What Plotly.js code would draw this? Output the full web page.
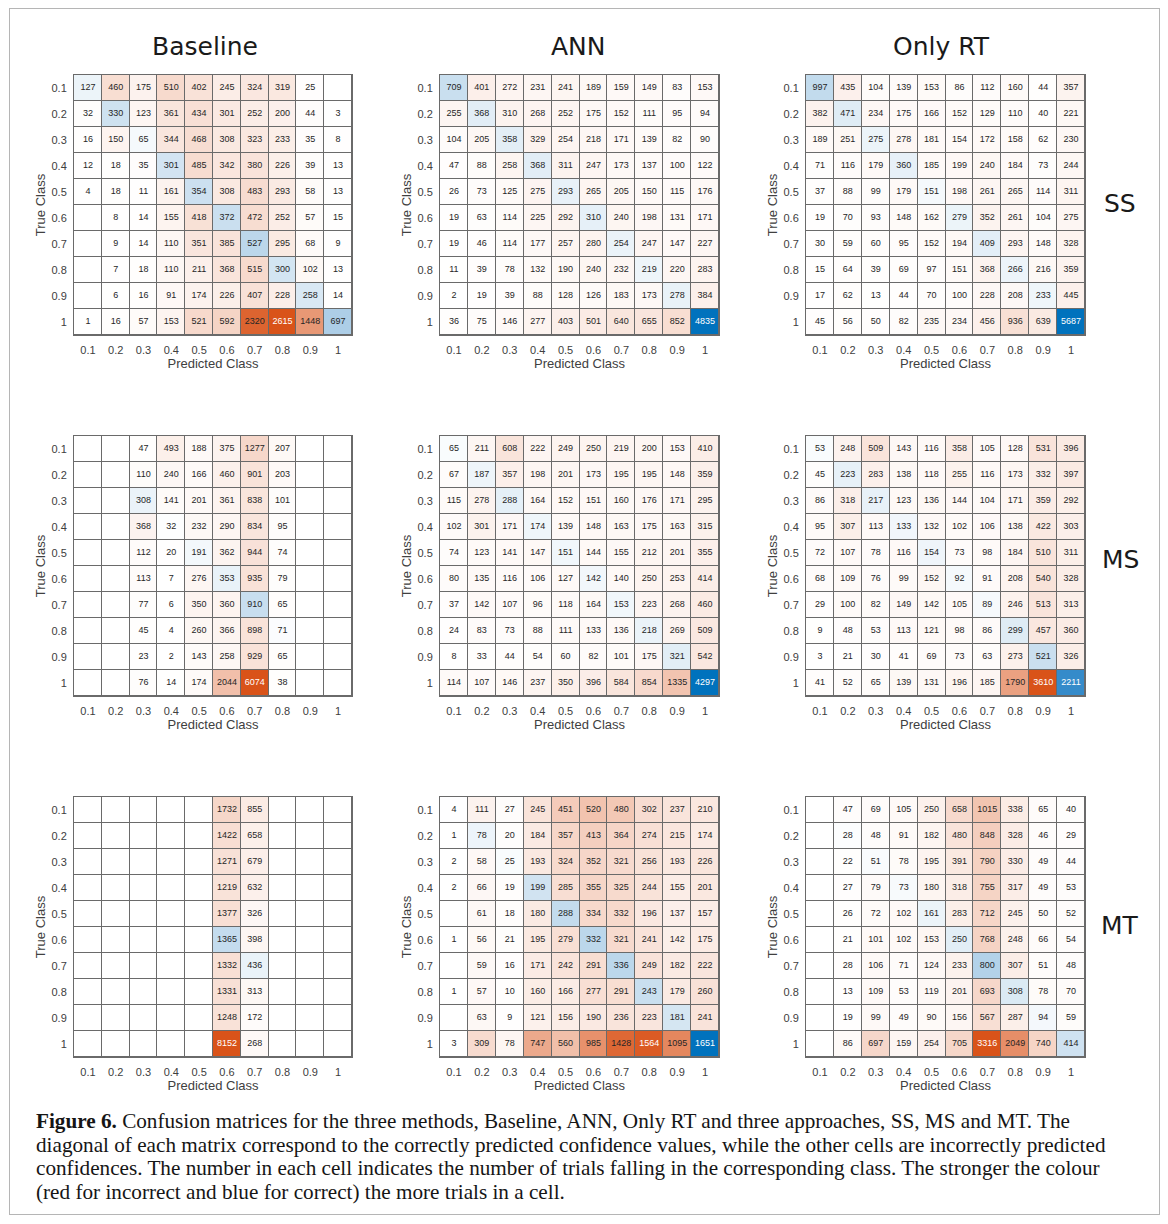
<!DOCTYPE html>
<html>
<head>
<meta charset="utf-8">
<script src="https://cdn.plot.ly/plotly-3.0.1.min.js"></script>
<style>
  html, body { margin: 0; padding: 0; background: #ffffff; }
  #wrap { position: relative; width: 1168px; height: 1224px; overflow: hidden; background: #fff; }
  #chart { position: absolute; left: 0; top: 0; width: 1168px; height: 1100px; }
  #frame { position: absolute; left: 9px; top: 8px; width: 1149px; height: 1205px; border: 1px solid #b5b5b5; pointer-events: none; }
  #caption { position: absolute; left: 36px; top: 1110px; font-family: 'Liberation Serif', 'DejaVu Serif', serif; font-size: 21.2px; line-height: 23.7px; color: #151515; white-space: nowrap; }
</style>
</head>
<body>
<div id="wrap">
  <div id="chart"></div>
  <div id="frame"></div>
  <div id="caption"><b>Figure 6.</b> Confusion matrices for the three methods, Baseline, ANN, Only RT and three approaches, SS, MS and MT. The<br>diagonal of each matrix correspond to the correctly predicted confidence values, while the other cells are incorrectly predicted<br>confidences. The number in each cell indicates the number of trials falling in the corresponding class. The stronger the colour<br>(red for incorrect and blue for correct) the more trials in a cell.</div>
</div>
<script>
// ---------- DATA ----------
const classes = ['0.1', '0.2', '0.3', '0.4', '0.5', '0.6', '0.7', '0.8', '0.9', '1'];
const methods = ['Baseline', 'ANN', 'Only RT'];
const approaches = ['SS', 'MS', 'MT'];

// rows = true class 0.1..1, columns = predicted class 0.1..1 (null = empty cell)
const ssBaseline = [
  [127, 460, 175, 510, 402, 245, 324, 319, 25, null],
  [32, 330, 123, 361, 434, 301, 252, 200, 44, 3],
  [16, 150, 65, 344, 468, 308, 323, 233, 35, 8],
  [12, 18, 35, 301, 485, 342, 380, 226, 39, 13],
  [4, 18, 11, 161, 354, 308, 483, 293, 58, 13],
  [null, 8, 14, 155, 418, 372, 472, 252, 57, 15],
  [null, 9, 14, 110, 351, 385, 527, 295, 68, 9],
  [null, 7, 18, 110, 211, 368, 515, 300, 102, 13],
  [null, 6, 16, 91, 174, 226, 407, 228, 258, 14],
  [1, 16, 57, 153, 521, 592, 2320, 2615, 1448, 697]
];
const ssANN = [
  [709, 401, 272, 231, 241, 189, 159, 149, 83, 153],
  [255, 368, 310, 268, 252, 175, 152, 111, 95, 94],
  [104, 205, 358, 329, 254, 218, 171, 139, 82, 90],
  [47, 88, 258, 368, 311, 247, 173, 137, 100, 122],
  [26, 73, 125, 275, 293, 265, 205, 150, 115, 176],
  [19, 63, 114, 225, 292, 310, 240, 198, 131, 171],
  [19, 46, 114, 177, 257, 280, 254, 247, 147, 227],
  [11, 39, 78, 132, 190, 240, 232, 219, 220, 283],
  [2, 19, 39, 88, 128, 126, 183, 173, 278, 384],
  [36, 75, 146, 277, 403, 501, 640, 655, 852, 4835]
];
const ssOnlyRT = [
  [997, 435, 104, 139, 153, 86, 112, 160, 44, 357],
  [382, 471, 234, 175, 166, 152, 129, 110, 40, 221],
  [189, 251, 275, 278, 181, 154, 172, 158, 62, 230],
  [71, 116, 179, 360, 185, 199, 240, 184, 73, 244],
  [37, 88, 99, 179, 151, 198, 261, 265, 114, 311],
  [19, 70, 93, 148, 162, 279, 352, 261, 104, 275],
  [30, 59, 60, 95, 152, 194, 409, 293, 148, 328],
  [15, 64, 39, 69, 97, 151, 368, 266, 216, 359],
  [17, 62, 13, 44, 70, 100, 228, 208, 233, 445],
  [45, 56, 50, 82, 235, 234, 456, 936, 639, 5687]
];
const msBaseline = [
  [null, null, 47, 493, 188, 375, 1277, 207, null, null],
  [null, null, 110, 240, 166, 460, 901, 203, null, null],
  [null, null, 308, 141, 201, 361, 838, 101, null, null],
  [null, null, 368, 32, 232, 290, 834, 95, null, null],
  [null, null, 112, 20, 191, 362, 944, 74, null, null],
  [null, null, 113, 7, 276, 353, 935, 79, null, null],
  [null, null, 77, 6, 350, 360, 910, 65, null, null],
  [null, null, 45, 4, 260, 366, 898, 71, null, null],
  [null, null, 23, 2, 143, 258, 929, 65, null, null],
  [null, null, 76, 14, 174, 2044, 6074, 38, null, null]
];
const msANN = [
  [65, 211, 608, 222, 249, 250, 219, 200, 153, 410],
  [67, 187, 357, 198, 201, 173, 195, 195, 148, 359],
  [115, 278, 288, 164, 152, 151, 160, 176, 171, 295],
  [102, 301, 171, 174, 139, 148, 163, 175, 163, 315],
  [74, 123, 141, 147, 151, 144, 155, 212, 201, 355],
  [80, 135, 116, 106, 127, 142, 140, 250, 253, 414],
  [37, 142, 107, 96, 118, 164, 153, 223, 268, 460],
  [24, 83, 73, 88, 111, 133, 136, 218, 269, 509],
  [8, 33, 44, 54, 60, 82, 101, 175, 321, 542],
  [114, 107, 146, 237, 350, 396, 584, 854, 1335, 4297]
];
const msOnlyRT = [
  [53, 248, 509, 143, 116, 358, 105, 128, 531, 396],
  [45, 223, 283, 138, 118, 255, 116, 173, 332, 397],
  [86, 318, 217, 123, 136, 144, 104, 171, 359, 292],
  [95, 307, 113, 133, 132, 102, 106, 138, 422, 303],
  [72, 107, 78, 116, 154, 73, 98, 184, 510, 311],
  [68, 109, 76, 99, 152, 92, 91, 208, 540, 328],
  [29, 100, 82, 149, 142, 105, 89, 246, 513, 313],
  [9, 48, 53, 113, 121, 98, 86, 299, 457, 360],
  [3, 21, 30, 41, 69, 73, 63, 273, 521, 326],
  [41, 52, 65, 139, 131, 196, 185, 1790, 3610, 2211]
];
const mtBaseline = [
  [null, null, null, null, null, 1732, 855, null, null, null],
  [null, null, null, null, null, 1422, 658, null, null, null],
  [null, null, null, null, null, 1271, 679, null, null, null],
  [null, null, null, null, null, 1219, 632, null, null, null],
  [null, null, null, null, null, 1377, 326, null, null, null],
  [null, null, null, null, null, 1365, 398, null, null, null],
  [null, null, null, null, null, 1332, 436, null, null, null],
  [null, null, null, null, null, 1331, 313, null, null, null],
  [null, null, null, null, null, 1248, 172, null, null, null],
  [null, null, null, null, null, 8152, 268, null, null, null]
];
const mtANN = [
  [4, 111, 27, 245, 451, 520, 480, 302, 237, 210],
  [1, 78, 20, 184, 357, 413, 364, 274, 215, 174],
  [2, 58, 25, 193, 324, 352, 321, 256, 193, 226],
  [2, 66, 19, 199, 285, 355, 325, 244, 155, 201],
  [null, 61, 18, 180, 288, 334, 332, 196, 137, 157],
  [1, 56, 21, 195, 279, 332, 321, 241, 142, 175],
  [null, 59, 16, 171, 242, 291, 336, 249, 182, 222],
  [1, 57, 10, 160, 166, 277, 291, 243, 179, 260],
  [null, 63, 9, 121, 156, 190, 236, 223, 181, 241],
  [3, 309, 78, 747, 560, 985, 1428, 1564, 1095, 1651]
];
const mtOnlyRT = [
  [null, 47, 69, 105, 250, 658, 1015, 338, 65, 40],
  [null, 28, 48, 91, 182, 480, 848, 328, 46, 29],
  [null, 22, 51, 78, 195, 391, 790, 330, 49, 44],
  [null, 27, 79, 73, 180, 318, 755, 317, 49, 53],
  [null, 26, 72, 102, 161, 283, 712, 245, 50, 52],
  [null, 21, 101, 102, 153, 250, 768, 248, 66, 54],
  [null, 28, 106, 71, 124, 233, 800, 307, 51, 48],
  [null, 13, 109, 53, 119, 201, 693, 308, 78, 70],
  [null, 19, 99, 49, 90, 156, 567, 287, 94, 59],
  [null, 86, 697, 159, 254, 705, 3316, 2049, 740, 414]
];

const grid = [
  [ssBaseline, ssANN, ssOnlyRT],
  [msBaseline, msANN, msOnlyRT],
  [mtBaseline, mtANN, mtOnlyRT]
];

// ---------- STYLE / LAYOUT ----------
const W = 1168, H = 1100;
const colPx = [[74, 352], [440, 719], [806, 1085]];
const rowPx = [[75, 335], [436, 696], [797, 1057]];
const titleX = [205, 578, 942];
const titleY = 46;
const rowLabelX = 1120;
const rowLabelY = [204, 560, 925];

// diverging colour scale: diagonal (negative, blue) <- white -> off-diagonal (positive, red)
const colorscale = [
  [0.0, [0, 114, 189]],
  [0.2, [55, 140, 202]],
  [0.365, [172, 206, 231]],
  [0.435, [205, 225, 240]],
  [0.5, [255, 255, 255]],
  [0.75, [234, 160, 128]],
  [1.0, [217, 83, 25]]
];
const plotlyScale = colorscale.map(s => [s[0], 'rgb(' + s[1].join(',') + ')']);
function colourAt(p) {
  for (let i = 1; i < colorscale.length; i++) {
    if (p <= colorscale[i][0]) {
      const a = colorscale[i - 1], b = colorscale[i];
      const f = (p - a[0]) / (b[0] - a[0]);
      return a[1].map((v, k) => v + f * (b[1][k] - v));
    }
  }
  return colorscale[colorscale.length - 1][1];
}
function labelColour(z, maxV) {
  const c = colourAt((z + maxV) / (2 * maxV));
  const bright = (c[0] * 299 + c[1] * 587 + c[2] * 114) / 1000;
  return bright < 128 ? '#ffffff' : '#262626';
}

const tickFont = { family: 'Liberation Sans, Arial, sans-serif', size: 11, color: '#404040' };
const axTitleFont = { family: 'Liberation Sans, Arial, sans-serif', size: 13, color: '#404040' };

const data = [];
const layout = {
  width: W, height: H,
  margin: { l: 0, r: 0, t: 0, b: 0 },
  paper_bgcolor: 'rgba(0,0,0,0)',
  plot_bgcolor: '#6a6a6a',
  showlegend: false,
  annotations: []
};

for (let r = 0; r < 3; r++) {
  for (let c = 0; c < 3; c++) {
    const m = grid[r][c];
    const k = r * 3 + c + 1;
    const sfx = k === 1 ? '' : String(k);
    let maxV = 0;
    m.forEach(row => row.forEach(v => { if (v != null && v > maxV) maxV = v; }));
    const z = m.map((row, i) => row.map((v, j) => v == null ? 0 : (i === j ? -v : v)));
    data.push({
      type: 'heatmap',
      x: classes, y: classes, z: z,
      colorscale: plotlyScale,
      zmin: -maxV, zmax: maxV,
      showscale: false,
      xgap: 1, ygap: 1,
      hoverinfo: 'skip',
      xaxis: 'x' + sfx, yaxis: 'y' + sfx
    });
    const tx = [], ty = [], tt = [], tc = [];
    m.forEach((row, i) => row.forEach((v, j) => {
      if (v == null) return;
      tx.push(classes[j]); ty.push(classes[i]); tt.push(String(v));
      tc.push(labelColour(z[i][j], maxV));
    }));
    data.push({
      type: 'scatter', mode: 'text',
      x: tx, y: ty, text: tt,
      textposition: 'middle center',
      textfont: { family: 'Liberation Sans, Arial, sans-serif', size: 9, color: tc },
      hovertemplate: 'True %{y}, Predicted %{x}: %{text}<extra></extra>',
      xaxis: 'x' + sfx, yaxis: 'y' + sfx
    });
    layout['xaxis' + sfx] = {
      domain: [colPx[c][0] / W, colPx[c][1] / W],
      anchor: 'y' + sfx,
      type: 'category',
      range: [-0.5, 9.5],
      showline: true, mirror: true, linecolor: '#6a6a6a', linewidth: 1,
      showgrid: false, zeroline: false, ticks: '',
      tickfont: tickFont,
      ticklabelstandoff: 5,
      title: { text: 'Predicted Class', font: axTitleFont, standoff: 2 },
      fixedrange: true
    };
    layout['yaxis' + sfx] = {
      domain: [1 - rowPx[r][1] / H, 1 - rowPx[r][0] / H],
      anchor: 'x' + sfx,
      type: 'category',
      range: [9.5, -0.5],
      showline: true, mirror: true, linecolor: '#6a6a6a', linewidth: 1,
      showgrid: false, zeroline: false, ticks: '',
      tickfont: tickFont,
      ticklabelstandoff: 4,
      title: { text: 'True Class', font: axTitleFont, standoff: 2 },
      fixedrange: true
    };
  }
}

methods.forEach((t, c) => {
  layout.annotations.push({
    text: t, xref: 'paper', yref: 'paper',
    x: titleX[c] / W, y: 1 - titleY / H, xanchor: 'center', yanchor: 'middle',
    showarrow: false, font: { family: 'DejaVu Sans, sans-serif', size: 25, color: '#1a1a1a' }
  });
});
approaches.forEach((t, r) => {
  layout.annotations.push({
    text: t, xref: 'paper', yref: 'paper',
    x: rowLabelX / W, y: 1 - rowLabelY[r] / H, xanchor: 'center', yanchor: 'middle',
    showarrow: false, font: { family: 'DejaVu Sans, sans-serif', size: 25, color: '#1a1a1a' }
  });
});

Plotly.newPlot('chart', data, layout, { staticPlot: true, displayModeBar: false });
</script>
</body>
</html>
